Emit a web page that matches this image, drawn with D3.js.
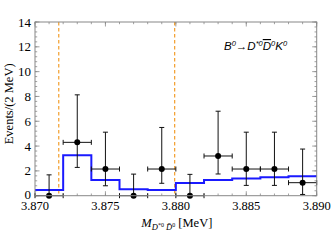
<!DOCTYPE html>
<html>
<head>
<meta charset="utf-8">
<script src="https://cdn.jsdelivr.net/npm/d3@7"></script>
<style>
  body { margin: 0; background: #fff; }
  svg { display: block; }
</style>
</head>
<body>
<div id="chart"></div>
<script>
// bins of 2 MeV
var binEdges = [3.870, 3.872, 3.874, 3.876, 3.878, 3.880, 3.882, 3.884, 3.886, 3.888, 3.890];
var binCenters = [3.871, 3.873, 3.875, 3.877, 3.879, 3.881, 3.883, 3.885, 3.887, 3.889];
var counts = [0, 4.3, 2.15, 0, 2.15, 0, 3.2, 2.15, 2.15, 1.05];
var errLow = [0, 2.28, 0.8, 0, 1.0, 0, 1.75, 0.83, 0.83, 0.1];
var errHigh = [1.68, 8.13, 5.12, 1.74, 5.5, 1.72, 6.81, 5.12, 5.12, 3.76];
var model = [0.46, 3.27, 1.26, 0.52, 0.46, 1.02, 1.26, 1.38, 1.48, 1.56];
var thresholds = [3.87169, 3.87992];
var xTicks = [3.870, 3.875, 3.880, 3.885, 3.890];
var yTicks = [0, 2, 4, 6, 8, 10, 12, 14];

var margin = { top: 22, left: 35, right: 15.3, bottom: 54.3 },
    W = 332, H = 250,
    width = W - margin.left - margin.right,
    height = H - margin.top - margin.bottom;

var svg = d3.select("#chart")
    .append("svg")
    .attr("width", W)
    .attr("height", H)
    .append("g")
    .attr("transform", "translate(" + margin.left + "," + margin.top + ")");

var x = d3.scaleLinear().domain([3.870, 3.890]).range([0, width]);
var y = d3.scaleLinear().domain([0, 14]).range([height, 0]);

var tickColor = "#888";
var serif = "'Liberation Serif', 'DejaVu Serif', serif";

// ticks, all four sides, pointing inwards
var xMinor = d3.range(0, 21).map(function (i) { return 3.870 + i * 0.001; });
var yMinor = d3.range(0, 36).map(function (i) { return i * 0.4; });

function drawTicks(g, vals, isX, len, onFar) {
    g.selectAll(null).data(vals).enter().append("line")
        .attr("x1", function (d) { return isX ? x(d) : (onFar ? width : 0); })
        .attr("x2", function (d) { return isX ? x(d) : (onFar ? width - len : len); })
        .attr("y1", function (d) { return isX ? (onFar ? 0 : height) : y(d); })
        .attr("y2", function (d) { return isX ? (onFar ? len : height - len) : y(d); })
        .attr("stroke", tickColor)
        .attr("stroke-width", 0.8);
}
var tg = svg.append("g");
drawTicks(tg, xMinor, true, 2.2, false);
drawTicks(tg, xMinor, true, 2.2, true);
drawTicks(tg, xTicks, true, 4.5, false);
drawTicks(tg, xTicks, true, 4.5, true);
drawTicks(tg, yMinor, false, 2.2, false);
drawTicks(tg, yMinor, false, 2.2, true);
drawTicks(tg, yTicks, false, 4.5, false);
drawTicks(tg, yTicks, false, 4.5, true);

// tick labels
svg.selectAll(".xl").data(xTicks).enter().append("text")
    .attr("x", function (d) { return x(d); })
    .attr("y", height + 14)
    .attr("text-anchor", "middle")
    .style("font-family", serif)
    .style("font-size", "12.5px")
    .text(function (d) { return d3.format(".3f")(d); });

svg.selectAll(".yl").data(yTicks).enter().append("text")
    .attr("x", -4)
    .attr("y", function (d) { return y(d) + (d === 0 ? 3.5 : 4.5); })
    .attr("text-anchor", "end")
    .style("font-family", serif)
    .style("font-size", "13px")
    .text(function (d) { return d; });

// threshold lines
svg.selectAll(".thr").data(thresholds).enter().append("line")
    .attr("x1", function (d) { return x(d); })
    .attr("x2", function (d) { return x(d); })
    .attr("y1", 0)
    .attr("y2", height)
    .attr("stroke", "#f08a00")
    .attr("stroke-width", 1)
    .attr("stroke-dasharray", "3.5,2.5");

// model histogram
var stepPts = [];
model.forEach(function (v, i) {
    stepPts.push([binEdges[i], v]);
    stepPts.push([binEdges[i + 1], v]);
});
svg.append("path")
    .datum(stepPts)
    .attr("fill", "none")
    .attr("stroke", "#1a1aff")
    .attr("stroke-width", 2)
    .attr("d", d3.line().x(function (d) { return x(d[0]); }).y(function (d) { return y(d[1]); }));

// data points with error bars
var pts = binCenters.map(function (c, i) {
    return { c: c, v: counts[i], lo: errLow[i], hi: errHigh[i], a: binEdges[i], b: binEdges[i + 1] };
});
var eg = svg.append("g").attr("stroke", "#111").attr("stroke-width", 1);
var cap = 2.5;
pts.forEach(function (p) {
    eg.append("line").attr("x1", x(p.c)).attr("x2", x(p.c)).attr("y1", y(p.lo)).attr("y2", y(p.hi));
    eg.append("line").attr("x1", x(p.c) - cap).attr("x2", x(p.c) + cap).attr("y1", y(p.hi)).attr("y2", y(p.hi));
    if (p.lo > 0) eg.append("line").attr("x1", x(p.c) - cap).attr("x2", x(p.c) + cap).attr("y1", y(p.lo)).attr("y2", y(p.lo));
    eg.append("line").attr("x1", x(p.a)).attr("x2", x(p.b)).attr("y1", y(p.v)).attr("y2", y(p.v));
    eg.append("line").attr("x1", x(p.a)).attr("x2", x(p.a)).attr("y1", y(p.v) - cap).attr("y2", y(p.v) + cap);
    eg.append("line").attr("x1", x(p.b)).attr("x2", x(p.b)).attr("y1", y(p.v) - cap).attr("y2", y(p.v) + cap);
});
svg.selectAll(".pt").data(pts).enter().append("circle")
    .attr("cx", function (d) { return x(d.c); })
    .attr("cy", function (d) { return y(d.v); })
    .attr("r", 3)
    .attr("fill", "#000");

// frame
svg.append("rect")
    .attr("width", width).attr("height", height)
    .attr("fill", "none")
    .attr("stroke", tickColor)
    .attr("stroke-width", 1);

// axis titles
svg.append("text")
    .attr("transform", "translate(" + (-22.5) + "," + (height / 2 - 5) + ") rotate(-90)")
    .attr("text-anchor", "middle")
    .style("font-family", serif)
    .style("font-size", "12.5px")
    .text("Events/(2 MeV)");

var xt = svg.append("text")
    .attr("x", width / 2 + 1)
    .attr("y", height + 31)
    .attr("text-anchor", "middle")
    .style("font-family", serif)
    .style("font-size", "12.5px");
xt.append("tspan").style("font-style", "italic").text("M");
xt.append("tspan").attr("dy", 3).style("font-style", "italic").style("font-size", "8.5px").text("D");
xt.append("tspan").attr("dy", -3).style("font-size", "6px").text("*0");
xt.append("tspan").attr("dy", 3).style("font-style", "italic").style("font-size", "8.5px").text(" D\u0304");
xt.append("tspan").attr("dy", -3).style("font-size", "6px").text("0");
xt.append("tspan").attr("dy", 0).text(" [MeV]");

// decay label
var sans = "'Liberation Sans', Arial, sans-serif";
var lab = svg.append("text")
    .attr("x", 189)
    .attr("y", 28)
    .style("font-family", sans)
    .style("font-style", "italic")
    .style("font-size", "11.5px");
lab.append("tspan").text("B");
lab.append("tspan").attr("dy", -4.5).style("font-size", "7.5px").text("0");
lab.append("tspan").attr("dy", 4.5).style("font-style", "normal").text("\u2192");
lab.append("tspan").text("D");
lab.append("tspan").attr("dy", -4.5).style("font-size", "7.5px").text("*0");
lab.append("tspan").attr("dy", 4.5).style("text-decoration", "overline").text("D");
lab.append("tspan").attr("dy", -4.5).style("font-size", "7.5px").text("0");
lab.append("tspan").attr("dy", 4.5).text("K");
lab.append("tspan").attr("dy", -4.5).style("font-size", "7.5px").text("0");
</script>
</body>
</html>
